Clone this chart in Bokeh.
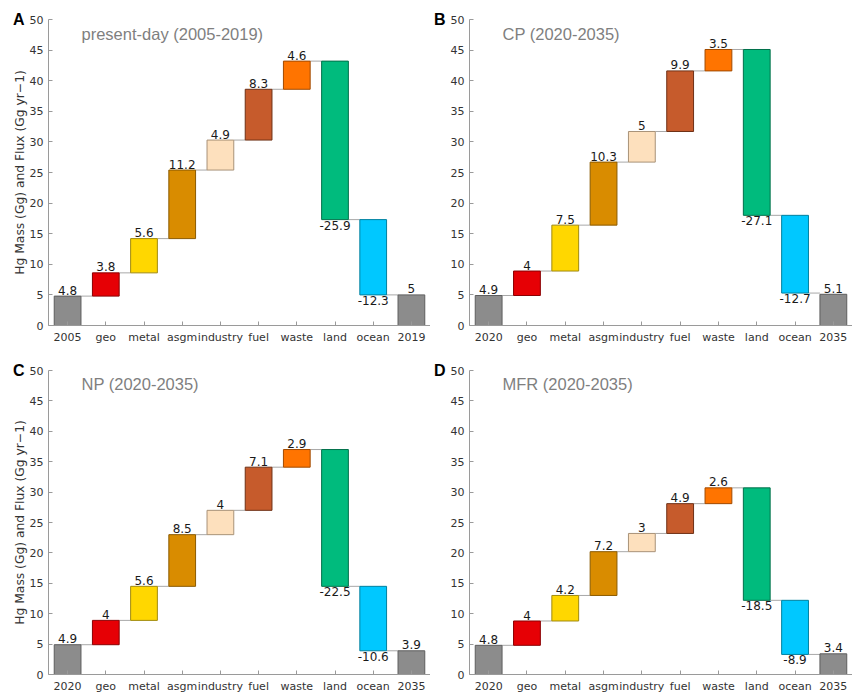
from bokeh.plotting import figure
from bokeh.models import FixedTicker, Label, ColumnDataSource, Range1d, LinearAxis
from bokeh.layouts import column, row
from bokeh.embed import file_html
from bokeh.resources import INLINE
from bokeh.core.properties import value

# ---------------- data ----------------
cats_A = ["2005", "geo", "metal", "asgm", "industry", "fuel", "waste", "land", "ocean", "2019"]
cats_future = ["2020", "geo", "metal", "asgm", "industry", "fuel", "waste", "land", "ocean", "2035"]

vals_A = [4.8, 3.8, 5.6, 11.2, 4.9, 8.3, 4.6, -25.9, -12.3, 5]
vals_B = [4.9, 4, 7.5, 10.3, 5, 9.9, 3.5, -27.1, -12.7, 5.1]
vals_C = [4.9, 4, 5.6, 8.5, 4, 7.1, 2.9, -22.5, -10.6, 3.9]
vals_D = [4.8, 4, 4.2, 7.2, 3, 4.9, 2.6, -18.5, -8.9, 3.4]

titles = ["present-day (2005-2019)", "CP (2020-2035)", "NP (2020-2035)", "MFR (2020-2035)"]
letters = ["A", "B", "C", "D"]

fill_colors = ["#8c8c8c", "#e60005", "#ffd700", "#d98c00", "#fde0bd",
               "#c65b2c", "#ff7400", "#00bb7d", "#00c8ff", "#8c8c8c"]
edge_colors = ["#5e5e5e", "#8a0003", "#a08a10", "#8a5a00", "#a89278",
               "#6e3015", "#a04a00", "#00704a", "#00809f", "#5e5e5e"]

y_ticks = [0, 5, 10, 15, 20, 25, 30, 35, 40, 45, 50]
y_label = "Hg Mass (Gg) and Flux (Gg yr\u22121)"

BW = 0.7
Y_PER_PX = 50 / 306.0


def fmt(v):
    return f"{v:g}"


def make_panel(cats, vals, title, letter, left, top):
    n = len(vals)
    xs = list(range(1, n + 1))
    bottoms, tops, levels = [], [], []
    cum = 0.0
    for i, v in enumerate(vals):
        if i == 0:
            b, t = 0.0, v
            cum = v
        elif i == n - 1:
            b, t = 0.0, v
        else:
            b, t = cum, cum + v
            cum = cum + v
        bottoms.append(min(b, t))
        tops.append(max(b, t))
        levels.append(cum)

    p = figure(
        width=430 if left else 422,
        height=351 if top else 344,
        x_range=Range1d(0.5, 10.5), y_range=Range1d(0, 50),
        output_backend="svg", toolbar_location=None, tools="",
        min_border_left=48 if left else 34,
        min_border_right=0,
        min_border_top=19,
        min_border_bottom=26 if top else 17,
        background_fill_color="white", border_fill_color="white",
    )
    p.outline_line_color = None
    p.grid.visible = False

    # connectors between consecutive bars
    x0 = [xs[i] + BW / 2 for i in range(n - 1)]
    x1 = [xs[i + 1] - BW / 2 for i in range(n - 1)]
    yl = [levels[i] for i in range(n - 1)]
    p.segment(x0=x0, y0=yl, x1=x1, y1=yl, line_color="#a8a8a8", line_width=1)

    src = ColumnDataSource(dict(x=xs, bottom=bottoms, top=tops,
                                fill=fill_colors, edge=edge_colors))
    p.vbar(x="x", width=BW, bottom="bottom", top="top", source=src,
           fill_color="fill", line_color="edge", line_width=1)

    # value labels (above rising bars, below falling bars)
    up_x, up_y, up_t, dn_x, dn_y, dn_t = [], [], [], [], [], []
    for i, v in enumerate(vals):
        if v >= 0:
            up_x.append(xs[i]); up_y.append(tops[i] + 1.5 * Y_PER_PX); up_t.append(fmt(v))
        else:
            dn_x.append(xs[i]); dn_y.append(bottoms[i] - 1.0 * Y_PER_PX); dn_t.append(fmt(v))
    p.text(x=up_x, y=up_y, text=up_t, text_align="center", text_baseline="bottom",
           text_font=value("DejaVu Sans"), text_font_size="12px", text_color="#1a1a1a")
    p.text(x=dn_x, y=dn_y, text=dn_t, text_align="center", text_baseline="top",
           text_font=value("DejaVu Sans"), text_font_size="12px", text_color="#1a1a1a")

    # axes
    xa = p.xaxis[0]
    ya = p.yaxis[0]
    for ax in (xa, ya):
        ax.axis_line_color = "#9a9a9a"
        ax.major_tick_line_color = "#9a9a9a"
        ax.major_tick_in = 4
        ax.major_tick_out = 0
        ax.minor_tick_line_color = None
        ax.minor_tick_in = 0
        ax.minor_tick_out = 0
        ax.major_label_text_font = "DejaVu Sans"
        ax.major_label_text_font_size = "11px"
        ax.major_label_text_color = "#333333"
    xa.ticker = FixedTicker(ticks=xs)
    xa.major_label_overrides = {x: c for x, c in zip(xs, cats)}
    xa.major_label_standoff = 5
    ya.ticker = FixedTicker(ticks=y_ticks)
    ya.major_label_standoff = 5

    # panel letter (and y label for left panels) on an outer axis
    la = LinearAxis(ticker=FixedTicker(ticks=[50]),
                    major_label_overrides={50: letter},
                    axis_line_color=None, major_tick_line_color=None,
                    minor_tick_line_color=None,
                    major_tick_in=0, major_tick_out=0,
                    minor_tick_in=0, minor_tick_out=0,
                    major_label_text_font="Liberation Sans",
                    major_label_text_font_style="bold",
                    major_label_text_font_size="16px",
                    major_label_text_color="black",
                    major_label_standoff=2)
    if left:
        la.axis_label = y_label
        la.axis_label_text_font = "DejaVu Sans"
        la.axis_label_text_font_size = "12.3px"
        la.axis_label_text_font_style = "normal"
        la.axis_label_text_color = "#333333"
        la.axis_label_standoff = -17
    p.add_layout(la, "left")

    p.add_layout(Label(x=0.5, y=50 - 14 * Y_PER_PX, x_offset=33, text=title,
                       text_font="Liberation Sans", text_font_size="16.5px",
                       text_baseline="middle", text_align="left",
                       text_color="#7f7f7f"))
    return p


pA = make_panel(cats_A, vals_A, titles[0], letters[0], True, True)
pB = make_panel(cats_future, vals_B, titles[1], letters[1], False, True)
pC = make_panel(cats_future, vals_C, titles[2], letters[2], True, False)
pD = make_panel(cats_future, vals_D, titles[3], letters[3], False, False)

layout = column(row(pA, pB), row(pC, pD))
open("out.html", "w").write(file_html(layout, INLINE))
